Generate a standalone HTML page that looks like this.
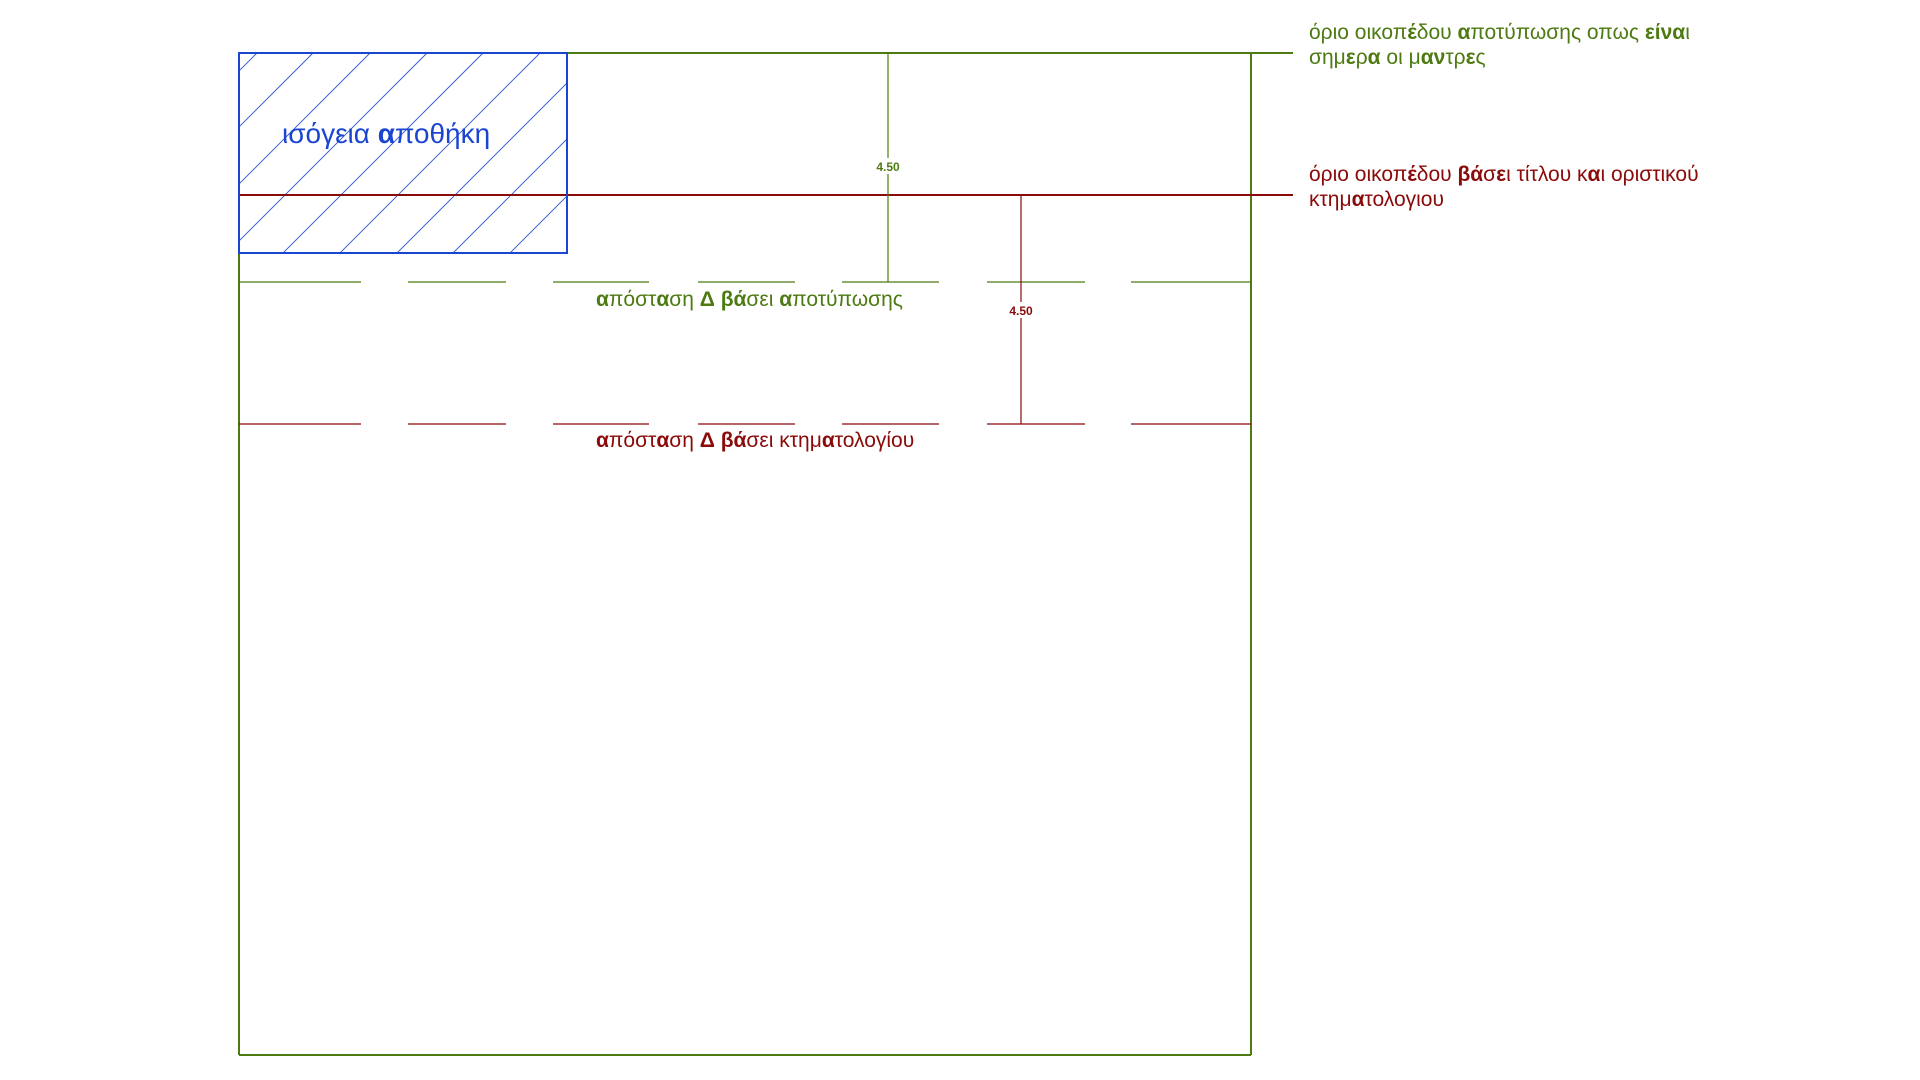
<!DOCTYPE html>
<html><head><meta charset="utf-8"><style>
html,body{margin:0;padding:0;background:#fff;width:1920px;height:1080px;overflow:hidden}
svg{display:block}
text{font-family:"Liberation Sans","DejaVu Sans",sans-serif}
</style></head><body>
<svg width="1920" height="1080" viewBox="0 0 1920 1080" xmlns="http://www.w3.org/2000/svg">
<defs>
<clipPath id="c"><rect x="239" y="53" width="328" height="200"/></clipPath>
</defs>
<g clip-path="url(#c)" stroke="#2a4fd0" stroke-width="0.9">
<line x1="-0" y1="310" x2="257" y2="53"/>
<line x1="56" y1="310" x2="313" y2="53"/>
<line x1="113" y1="310" x2="370" y2="53"/>
<line x1="170" y1="310" x2="427" y2="53"/>
<line x1="226" y1="310" x2="483" y2="53"/>
<line x1="283" y1="310" x2="540" y2="53"/>
<line x1="340" y1="310" x2="597" y2="53"/>
<line x1="396" y1="310" x2="653" y2="53"/>
<line x1="453" y1="310" x2="710" y2="53"/>
<line x1="510" y1="310" x2="767" y2="53"/>
</g>
<g stroke="#4e7a12" stroke-width="2" fill="none">
<line x1="239" y1="1055" x2="239" y2="53"/>
<line x1="239" y1="53" x2="1293" y2="53"/>
<line x1="1251" y1="53" x2="1251" y2="1055"/>
<line x1="239" y1="1055" x2="1251" y2="1055"/>
</g>
<line x1="239" y1="195" x2="1293" y2="195" stroke="#8b0a0a" stroke-width="2"/>
<rect x="239" y="53" width="328" height="200" fill="none" stroke="#1a45d0" stroke-width="2"/>
<g stroke="#4e7a12" stroke-width="1.2">
<line x1="239" y1="282" x2="361" y2="282"/><line x1="408" y1="282" x2="506" y2="282"/>
<line x1="553" y1="282" x2="649" y2="282"/><line x1="698" y1="282" x2="795" y2="282"/>
<line x1="842" y1="282" x2="939" y2="282"/><line x1="987" y1="282" x2="1085" y2="282"/>
<line x1="1131" y1="282" x2="1251" y2="282"/>
</g>
<g stroke="#8b0a0a" stroke-width="1.2">
<line x1="239" y1="424" x2="361" y2="424"/><line x1="408" y1="424" x2="506" y2="424"/>
<line x1="553" y1="424" x2="649" y2="424"/><line x1="698" y1="424" x2="795" y2="424"/>
<line x1="842" y1="424" x2="939" y2="424"/><line x1="987" y1="424" x2="1085" y2="424"/>
<line x1="1131" y1="424" x2="1251" y2="424"/>
</g>
<line x1="888" y1="53" x2="888" y2="282" stroke="#4e7a12" stroke-width="1.2"/>
<rect x="874" y="158" width="28" height="16" fill="#fff"/>
<text x="888" y="171" font-size="12" fill="#4e7a12" text-anchor="middle" font-weight="bold">4.50</text>
<line x1="1021" y1="195" x2="1021" y2="424" stroke="#8b0a0a" stroke-width="1.2"/>
<rect x="1007" y="302" width="28" height="16" fill="#fff"/>
<text x="1021" y="315" font-size="12" fill="#8b0a0a" text-anchor="middle" font-weight="bold">4.50</text>
<text x="282" y="143" font-size="28" fill="#1a45d0">ισόγεια <tspan font-weight="bold">α</tspan>ποθήκη</text>
<text x="596" y="306" font-size="21" fill="#4e7a12"><tspan font-weight="bold">α</tspan>πόστ<tspan font-weight="bold">α</tspan>ση <tspan font-weight="bold">Δ βά</tspan>σει <tspan font-weight="bold">α</tspan>ποτύπωσης</text>
<text x="596" y="447" font-size="21" fill="#8b0a0a"><tspan font-weight="bold">α</tspan>πόστ<tspan font-weight="bold">α</tspan>ση <tspan font-weight="bold">Δ βά</tspan>σει κτημ<tspan font-weight="bold">α</tspan>τολογίου</text>
<text x="1309" y="39" font-size="21" fill="#4e7a12">όριο οικοπ<tspan font-weight="bold">έ</tspan>δου <tspan font-weight="bold">α</tspan>ποτύπωσης οπως <tspan font-weight="bold">είνα</tspan>ι</text>
<text x="1309" y="64" font-size="21" fill="#4e7a12">σημ<tspan font-weight="bold">ε</tspan>ρ<tspan font-weight="bold">α</tspan> οι μ<tspan font-weight="bold">αν</tspan>τρ<tspan font-weight="bold">ε</tspan>ς</text>
<text x="1309" y="181" font-size="21" fill="#8b0a0a">όριο οικοπ<tspan font-weight="bold">έ</tspan>δου <tspan font-weight="bold">βά</tspan>σ<tspan font-weight="bold">ε</tspan>ι τίτλου κ<tspan font-weight="bold">α</tspan>ι οριστικού</text>
<text x="1309" y="206" font-size="21" fill="#8b0a0a">κτημ<tspan font-weight="bold">α</tspan>τολογιου</text>
</svg>
</body></html>
